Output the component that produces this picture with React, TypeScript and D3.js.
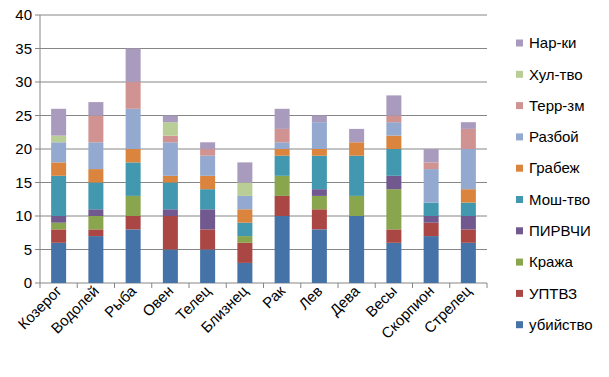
import React from "react";
import * as d3 from "d3";

const categories = ["Козерог", "Водолей", "Рыба", "Овен", "Телец", "Близнец", "Рак", "Лев", "Дева", "Весы", "Скорпион", "Стрелец"];
const seriesNames = ["убийство", "УПТВЗ", "Кража", "ПИРВЧИ", "Мош-тво", "Грабеж", "Разбой", "Терр-зм", "Хул-тво", "Нар-ки"];
const colors = ["#4572A7", "#AA4643", "#89A54E", "#71588F", "#4198AF", "#DB843D", "#93A9CF", "#D19392", "#B9CD96", "#A99BBD"];

const murder = [6, 7, 8, 5, 5, 3, 10, 8, 10, 6, 7, 6];
const uptvz = [2, 1, 2, 5, 3, 3, 3, 3, 0, 2, 2, 2];
const theft = [1, 2, 3, 0, 0, 1, 3, 2, 3, 6, 0, 0];
const pirvchi = [1, 1, 0, 1, 3, 0, 0, 1, 0, 2, 1, 2];
const fraud = [6, 4, 5, 4, 3, 2, 3, 5, 6, 4, 2, 2];
const robbery = [2, 2, 2, 1, 2, 2, 1, 1, 2, 2, 0, 2];
const assault = [3, 4, 6, 5, 3, 2, 1, 4, 0, 2, 5, 6];
const terror = [0, 4, 4, 1, 1, 0, 2, 0, 0, 1, 1, 3];
const hooligan = [1, 0, 0, 2, 0, 2, 0, 0, 0, 0, 0, 0];
const drugs = [4, 2, 5, 1, 1, 3, 3, 1, 2, 3, 2, 1];

const seriesValues = [murder, uptvz, theft, pirvchi, fraud, robbery, assault, terror, hooligan, drugs];
const yTicks = [0, 5, 10, 15, 20, 25, 30, 35, 40];

const W = 609, H = 377;
const left = 40, right = 487, top = 15, bottom = 283;
const FONT = "'Liberation Sans', Arial, sans-serif";

export default function App() {
  const xb = d3.scaleBand<string>().domain(categories).range([left, right]);
  const y = d3.scaleLinear().domain([0, 40]).range([bottom, top]);

  const rows = categories.map((c, i) => {
    const r: any = { cat: c };
    seriesNames.forEach((s, j) => (r[s] = seriesValues[j][i]));
    return r;
  });
  const stacked = d3.stack<any>().keys(seriesNames)(rows);
  const bw = 15;
  const legendStep = 31.3;

  return (
    <svg width={W} height={H} style={{ position: "absolute", left: 0, top: 0, background: "#fff" }} fontFamily={FONT}>
      {yTicks.map((t) => (
        <g key={t}>
          <line x1={35} x2={right} y1={y(t)} y2={y(t)} stroke="#868686" strokeWidth={1} />
          <text x={32} y={y(t)} dy="0.35em" textAnchor="end" fontSize={15} fill="#000">{t}</text>
        </g>
      ))}
      <line x1={left} x2={left} y1={top} y2={bottom} stroke="#868686" />
      {categories.map((c) => (
        <line key={c} x1={xb(c)!} x2={xb(c)!} y1={bottom} y2={bottom + 5} stroke="#868686" />
      ))}
      <line x1={right} x2={right} y1={bottom} y2={bottom + 5} stroke="#868686" />
      {stacked.map((s, j) => (
        <g key={s.key} fill={colors[j]}>
          {s.map((d, i) => {
            const c = categories[i];
            const cx = xb(c)! + xb.bandwidth() / 2;
            const h = y(d[0]) - y(d[1]);
            if (h <= 0) return null;
            return <rect key={c} x={cx - bw / 2} y={y(d[1])} width={bw} height={h} />;
          })}
        </g>
      ))}
      {categories.map((c) => {
        const cx = xb(c)! + xb.bandwidth() / 2 + 4;
        return (
          <text key={c} transform={`translate(${cx},${292}) rotate(-45)`} textAnchor="end" fontSize={15} fill="#000">{c}</text>
        );
      })}
      {seriesNames.slice().reverse().map((s, k) => {
        const j = seriesNames.length - 1 - k;
        const cy = 43 + k * legendStep;
        return (
          <g key={s}>
            <rect x={516} y={cy - 3.5} width={7} height={7} fill={colors[j]} />
            <text x={529} y={cy} dy="0.35em" fontSize={15} fill="#000">{s}</text>
          </g>
        );
      })}
    </svg>
  );
}
